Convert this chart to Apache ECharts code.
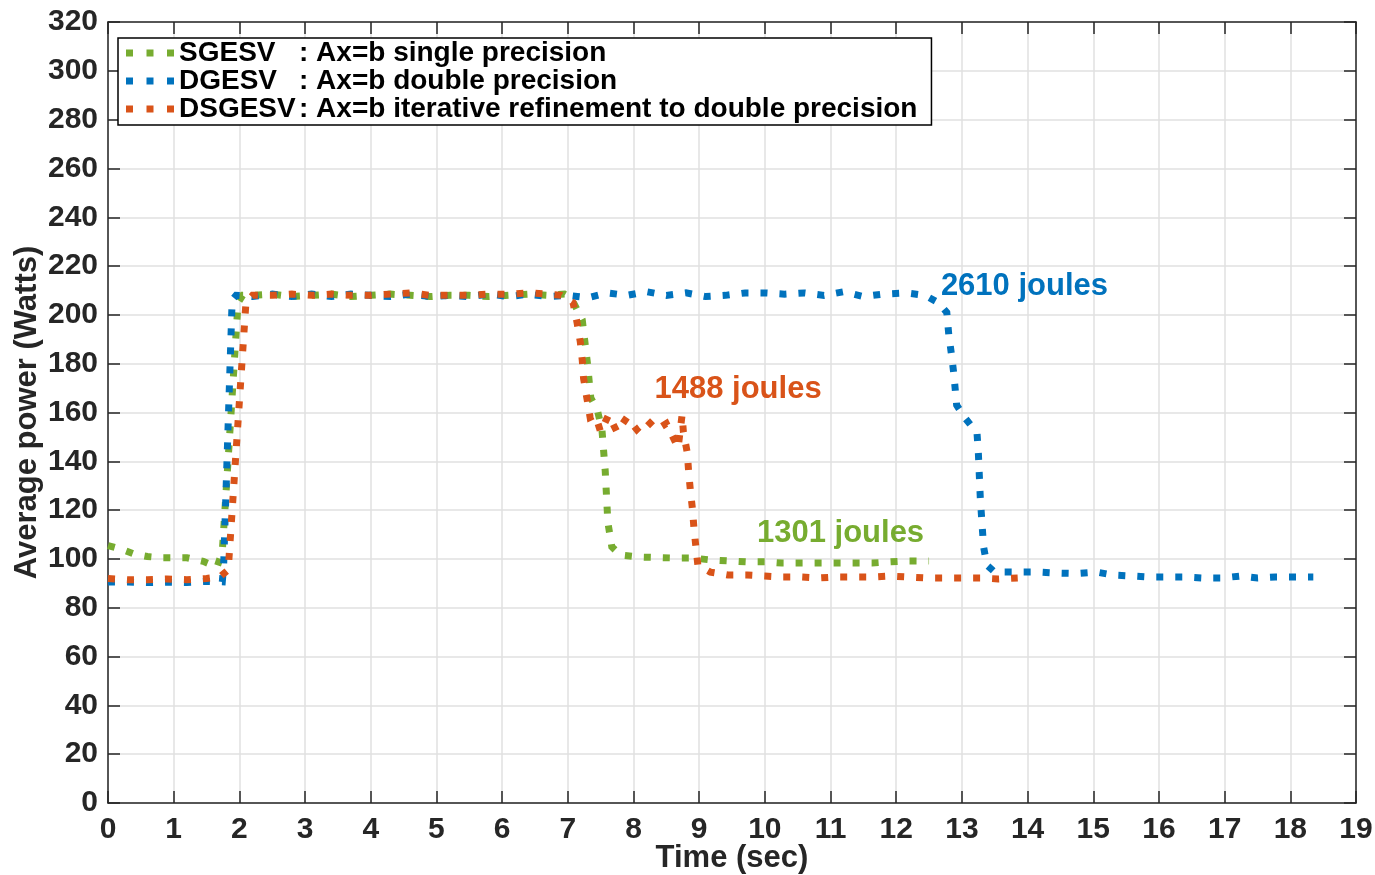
<!DOCTYPE html>
<html>
<head>
<meta charset="utf-8">
<script src="https://cdn.jsdelivr.net/npm/echarts@6/dist/echarts.min.js"></script>
<style>
  html, body { margin: 0; padding: 0; background: #fff; }
  #chart { width: 1375px; height: 875px; }
</style>
</head>
<body>
<div id="chart"></div>
<script>
// Power traces of three LAPACK solvers (time in seconds, power in watts)
const sgesvTime = [0, 0.2, 0.4, 0.6, 0.8, 1.0, 1.2, 1.45, 1.66, 1.74, 1.98, 2.05,
  2.2, 2.5, 2.8, 3.1, 3.4, 3.7, 4.0, 4.3, 4.6, 4.9, 5.2, 5.5, 5.8, 6.1, 6.4, 6.7, 6.95,
  7.05, 7.22, 7.3, 7.35, 7.45, 7.52, 7.57, 7.61, 7.67, 7.8, 8.07, 8.6, 8.9, 9.17, 9.44,
  9.73, 10.0, 10.26, 10.54, 10.81, 11.1, 11.37, 11.63, 11.9, 12.18, 12.5];
const sgesvPower = [105.5, 104, 102, 101, 100.5, 100.5, 100.5, 99, 96.7, 103, 205, 208,
  208, 208.5, 207.5, 208, 208.5, 207.5, 208, 208.5, 208, 207.5, 208, 208, 207.5, 208, 208.5, 208, 208.5,
  207, 198, 180, 166, 161, 153, 136, 115, 105, 101.6, 100.8, 100.4, 100.4, 99.6, 99.2,
  98.8, 98.8, 98.3, 98.3, 98.3, 98.3, 98.3, 98.3, 98.8, 99.2, 99.2];

const dgesvTime = [0, 0.3, 0.6, 0.9, 1.2, 1.5, 1.74, 1.76, 1.89, 1.95,
  2.2, 2.5, 2.8, 3.1, 3.4, 3.7, 4.0, 4.3, 4.6, 4.9, 5.2, 5.5, 5.8, 6.1, 6.4, 6.7, 7.0,
  7.3, 7.6, 7.9, 8.2, 8.5, 8.8, 9.1, 9.4, 9.7, 10.0, 10.3, 10.6, 10.9, 11.2, 11.5, 11.8,
  12.16, 12.44, 12.64, 12.77, 12.8, 12.85, 12.88, 12.92, 13.05, 13.23, 13.25, 13.28,
  13.33, 13.38, 13.5, 13.63, 13.9, 14.19, 14.46, 14.75, 15.05, 15.3, 15.6, 15.85,
  16.12, 16.4, 16.67, 16.96, 17.24, 17.5, 17.77, 18.04, 18.35];
const dgesvPower = [90.6, 90.5, 90.3, 90.5, 90.3, 90.8, 90.6, 97, 206, 208,
  207.5, 208.5, 207.5, 208.5, 207.5, 208.5, 208, 207.5, 208.5, 207.5, 208, 207.5, 208.5, 207.5, 208.5, 207.5, 208,
  207, 209, 208, 209.5, 208, 209, 207.5, 208, 209, 209, 208.5, 209, 208, 209.5, 207.5, 208.5,
  209, 208, 205, 201, 192, 182, 175, 163, 157.7, 151.6, 143.8, 125,
  105, 97.5, 94.6, 94.6, 94.6, 94.6, 94.2, 94, 94.6, 93.4, 93, 92.6,
  92.6, 92.6, 92.2, 92.2, 93, 92.2, 92.6, 92.6, 92.6];

const dsgesvTime = [0, 0.3, 0.6, 0.9, 1.2, 1.5, 1.7, 1.83, 2.1, 2.2,
  2.5, 2.8, 3.1, 3.4, 3.7, 4.0, 4.3, 4.6, 4.9, 5.2, 5.5, 5.8, 6.1, 6.4, 6.7, 6.9,
  7.08, 7.14, 7.19, 7.22, 7.24, 7.29, 7.34, 7.42, 7.5, 7.62, 7.75, 7.9, 8.05, 8.2,
  8.35, 8.5, 8.6, 8.68, 8.74, 8.76, 8.82, 8.84, 8.87, 8.9, 8.92, 8.95, 8.98, 9.17,
  9.44, 9.73, 10.0, 10.26, 10.54, 10.81, 11.07, 11.35, 11.63, 11.9, 12.18, 12.47,
  12.74, 13.0, 13.28, 13.55, 13.85];
const dsgesvPower = [92, 91.5, 91.5, 91.8, 91.5, 92, 92.6, 95.5, 205, 208,
  208, 208.5, 208, 208.5, 208, 208, 208.5, 209, 208, 208, 208, 208.5, 208.5, 209, 208.5, 208,
  205, 197, 189, 181.5, 174, 166, 158, 159, 152, 159, 152, 158, 153, 157,
  153, 155.5, 150, 145.5, 159, 152, 143.4, 135.6, 127, 120, 112.7, 105, 97.5, 94.6,
  93.4, 93.4, 93, 92.6, 92.6, 92.2, 92.6, 92.6, 92.6, 93, 92.6, 92.2,
  92.2, 92.2, 92.2, 91.8, 92.2];

const seriesNames = ['SGESV', 'DGESV', 'DSGESV'];
const seriesDescriptions = [': Ax=b single precision', ': Ax=b double precision', ': Ax=b iterative refinement to double precision'];
const seriesColors = ['#77AC30', '#0072BD', '#D95319'];

// Energy totals written next to each trace
const energyLabels = ['2610 joules', '1488 joules', '1301 joules'];
const energyLabelTime = [12.68, 8.32, 9.88];
const energyLabelPower = [211.8, 169.3, 110.5];
const energyLabelColors = ['#0072BD', '#D95319', '#77AC30'];

const xTicks = { min: 0, max: 19, interval: 1 };
const yTicks = { min: 0, max: 320, interval: 20 };

const AXIS_COLOR = '#262626';
const FONT = '"Liberation Sans", Arial, Helvetica, sans-serif';

function pairs(xs, ys) { return xs.map((x, i) => [x, ys[i]]); }

const traces = [pairs(sgesvTime, sgesvPower), pairs(dgesvTime, dgesvPower), pairs(dsgesvTime, dsgesvPower)];

const chart = echarts.init(document.getElementById('chart'), null, { renderer: 'canvas' });

const tickStyle = { inside: true, length: 12, lineStyle: { color: AXIS_COLOR, width: 1.5 } };
const axisLineStyle = { show: true, onZero: false, lineStyle: { color: AXIS_COLOR, width: 1.5 } };
const labelStyle = { color: AXIS_COLOR, fontSize: 30, fontWeight: 'bold', fontFamily: FONT };

const lineSeries = seriesNames.map((name, i) => ({
  name: name,
  type: 'line',
  data: traces[i],
  showSymbol: false,
  symbol: 'none',
  color: seriesColors[i],
  lineStyle: { color: seriesColors[i], width: 7, type: [7, 12], cap: 'butt', join: 'miter' },
  animation: false,
  z: 3 + i
}));

const legendFont = { color: '#000', fontSize: 28, fontWeight: 'bold', fontFamily: FONT, lineHeight: 27.5 };

const option = {
  animation: false,
  backgroundColor: '#fff',
  grid: { left: 108, right: 19, top: 22, bottom: 72, containLabel: false, outerBoundsMode: 'none' },
  xAxis: [
    {
      type: 'value', min: xTicks.min, max: xTicks.max, interval: xTicks.interval,
      position: 'bottom',
      name: 'Time (sec)', nameLocation: 'middle', nameGap: 40, nameMoveOverlap: false,
      nameTextStyle: { color: AXIS_COLOR, fontSize: 31, fontWeight: 'bold', fontFamily: FONT },
      axisLine: axisLineStyle, axisTick: tickStyle,
      axisLabel: Object.assign({ margin: 12 }, labelStyle),
      splitLine: { show: true, lineStyle: { color: '#e0e0e0', width: 1.5 } }
    },
    {
      type: 'value', min: xTicks.min, max: xTicks.max, interval: xTicks.interval,
      position: 'top',
      axisLine: axisLineStyle, axisTick: tickStyle,
      axisLabel: { show: false }, splitLine: { show: false }
    }
  ],
  yAxis: [
    {
      type: 'value', min: yTicks.min, max: yTicks.max, interval: yTicks.interval,
      position: 'left',
      name: 'Average power (Watts)', nameLocation: 'middle', nameGap: 65, nameMoveOverlap: false,
      nameTextStyle: { color: AXIS_COLOR, fontSize: 31, fontWeight: 'bold', fontFamily: FONT },
      axisLine: axisLineStyle, axisTick: tickStyle,
      axisLabel: Object.assign({ margin: 10 }, labelStyle),
      splitLine: { show: true, lineStyle: { color: '#e0e0e0', width: 1.5 } }
    },
    {
      type: 'value', min: yTicks.min, max: yTicks.max, interval: yTicks.interval,
      position: 'right',
      axisLine: axisLineStyle, axisTick: tickStyle,
      axisLabel: { show: false }, splitLine: { show: false }
    }
  ],
  legend: {
    data: seriesNames,
    orient: 'vertical',
    left: 118, top: 38,
    padding: [1, 14, 2, 8],
    itemGap: 0,
    itemWidth: 48, itemHeight: 7,
    icon: 'path://M0,0h7v7h-7z M20.5,0h7v7h-7z M41,0h7v7h-7z',
    backgroundColor: '#fff',
    borderColor: '#000', borderWidth: 1.5,
    selectedMode: false,
    formatter: function (name) {
      const i = seriesNames.indexOf(name);
      return '{n|' + name + '}{d|' + seriesDescriptions[i] + '}';
    },
    textStyle: Object.assign({
      rich: {
        n: Object.assign({ width: 120 }, legendFont),
        d: Object.assign({}, legendFont)
      }
    }, legendFont)
  },
  series: lineSeries.concat([{
    name: 'energy',
    type: 'scatter',
    symbolSize: 0,
    silent: true,
    z: 10,
    itemStyle: { opacity: 1 },
    data: energyLabels.map((t, i) => ({
      name: t,
      value: [energyLabelTime[i], energyLabelPower[i]],
      label: { color: energyLabelColors[i] }
    })),
    label: {
      show: true, position: 'right', distance: 0, formatter: '{b}',
      fontSize: 31, fontWeight: 'bold', fontFamily: FONT, opacity: 1
    }
  }])
};

chart.setOption(option);
</script>
</body>
</html>
